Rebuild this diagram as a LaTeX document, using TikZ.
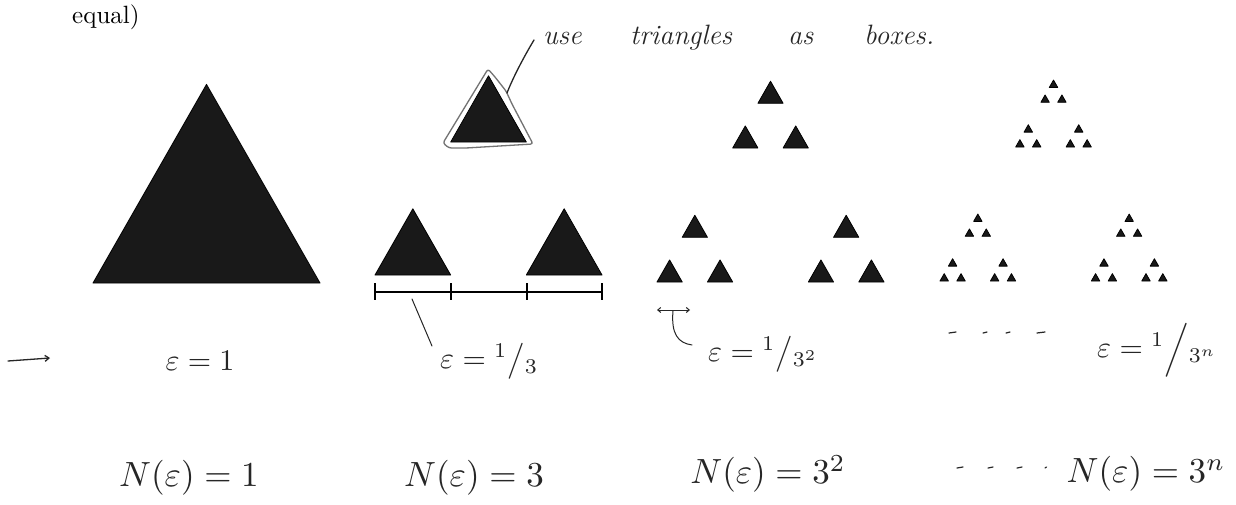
\documentclass[tikz,border=0pt]{standalone}
\usepackage{graphicx}
\usetikzlibrary{arrows.meta}
\tikzset{
 tri/.style={fill=black!90, draw=black, line width=0.8pt, line join=round},
 hand/.style={draw=black!85, line width=1.3pt, line cap=round, line join=round},
 outl/.style={draw=black!55, line width=1.3pt, line join=round},
 barln/.style={draw=black, line width=1.6pt},
 tickln/.style={draw=black, line width=1.2pt},
 hw/.style={text=black!85, inner sep=0pt},
 wordf/.style={hw, font=\fontsize{28}{28}\selectfont\itshape, anchor=base west},
}
\newcommand{\tri}[3]{\filldraw[tri] (#1,#2) -- ++(#3,0) -- ++({-(#3)/2},{-0.875*(#3)}) -- cycle;}
\newcommand{\epsm}[1]{\scalebox{3}{$#1$}}
\newcommand{\nm}[1]{\scalebox{3.5}{$#1$}}
\begin{document}
\begin{tikzpicture}[x=1pt,y=-1pt]
\useasboundingbox (0,0) rectangle (1236,504);
\fill[white] (0,0) rectangle (1236,504);

% printed text
\node[anchor=base west, inner sep=0pt] (eq) at (72,23) {\scalebox{2.5}{equal)}};

% level 0
\tri{93}{283}{227}

% level 1
\foreach \a/\b in {0/0,2/0,1/1}{
  \pgfmathsetmacro\xx{375+\a*75.67}
  \pgfmathsetmacro\yy{275-\b*133}
  \tri{\xx}{\yy}{75.67}
}

% level 2
\foreach \a/\b in {0/0,2/0,1/1}{
 \foreach \c/\d in {0/0,2/0,1/1}{
  \pgfmathsetmacro\xx{657+\a*75.67+\c*25.22}
  \pgfmathsetmacro\yy{282-\b*134-\d*44.7}
  \tri{\xx}{\yy}{25.22}
 }}

% level 3
\foreach \a/\b in {0/0,2/0,1/1}{
 \foreach \c/\d in {0/0,2/0,1/1}{
  \foreach \e/\f in {0/0,2/0,1/1}{
   \pgfmathsetmacro\xx{940+\a*75.67+\c*25.22+\e*8.41}
   \pgfmathsetmacro\yy{281-\b*134-\d*44.7-\f*14.9}
   \tri{\xx}{\yy}{8.41}
 }}}

% scale bar under level 1
\coordinate (bl) at (375,292);
\coordinate (br) at (602,292);
\draw[barln] (bl) -- (br);
\foreach \x in {375,451,527,602} \draw[tickln] (\x,283) -- (\x,300);

% hand-drawn outline round the top triangle of level 1
\draw[outl, rounded corners=2.5pt] (488,69) -- (443,143) -- (449,148) -- (466,148)
  -- (533,144) -- (512,104) -- (506,91) -- (495,77) -- cycle;

% handwritten note
\node[wordf] (w1) at (543,44) {use};
\node[wordf] (w2) at (630,44) {triangles};
\node[wordf] (w3) at (788,44) {as};
\node[wordf] (w4) at (864,44) {boxes.};
\coordinate (oc) at (507,93);
\draw[hand] ([xshift=-9pt,yshift=-2pt]w1.west) .. controls (522,60) and (512,80) .. (oc);

% left arrow
\coordinate (la) at (8,361);
\coordinate (lb) at (50,358);
\draw[hand, -{Straight Barb[length=4pt,width=6pt]}] (la) -- (lb);

% epsilon labels
\node[hw] (e0) at (200,361) {\epsm{\varepsilon=1}};
\node[hw, anchor=west] (e1) at (440,361) {\epsm{\varepsilon={}^{1}\big/{}_{3}}};
\node[hw, anchor=west] (e2) at (708,354) {\epsm{\varepsilon={}^{1}\big/{}_{3^2}}};
\node[hw, anchor=west] (e3) at (1097,350) {\epsm{\varepsilon={}^{1}\Big/{}_{3^n}}};

% leader from scale bar to eps=1/3
\coordinate (b1) at (412,299);
\coordinate (b1e) at (432,346);
\draw[hand, line width=1pt] (b1) -- (b1e);

% small double arrow and hook for eps=1/3^2
\coordinate (da) at (657,310);
\coordinate (db) at (690,310);
\draw[hand, line width=1pt, {Straight Barb[length=3pt,width=5pt]}-{Straight Barb[length=3pt,width=5pt]}] (da) -- (db);
\coordinate (hk) at (673,311);
\coordinate (hke) at (692,345);
\draw[hand, line width=1pt] (hk) .. controls (671,334) and (678,343) .. (hke);

% dots on epsilon row
\foreach \x/\l in {949/7,983/4,1006/4,1037/8}
  \draw[hand, line width=1.2pt] (\x,333) -- ++(\l,-1);

% N labels
\node[hw] (n0) at (189,478) {\nm{N(\varepsilon)=1}};
\node[hw] (n1) at (474,478) {\nm{N(\varepsilon)=3}};
\node[hw] (n2) at (768,474) {\nm{N(\varepsilon)=3^2}};
\node[hw] (n3) at (1146,474) {\nm{N(\varepsilon)=3^n}};

% dots on N row
\foreach \x/\l in {957/6,988/5,1017/5,1045/1.5}
  \draw[hand, line width=1.2pt] (\x,468) -- ++(\l,-1);
\end{tikzpicture}
\end{document}
